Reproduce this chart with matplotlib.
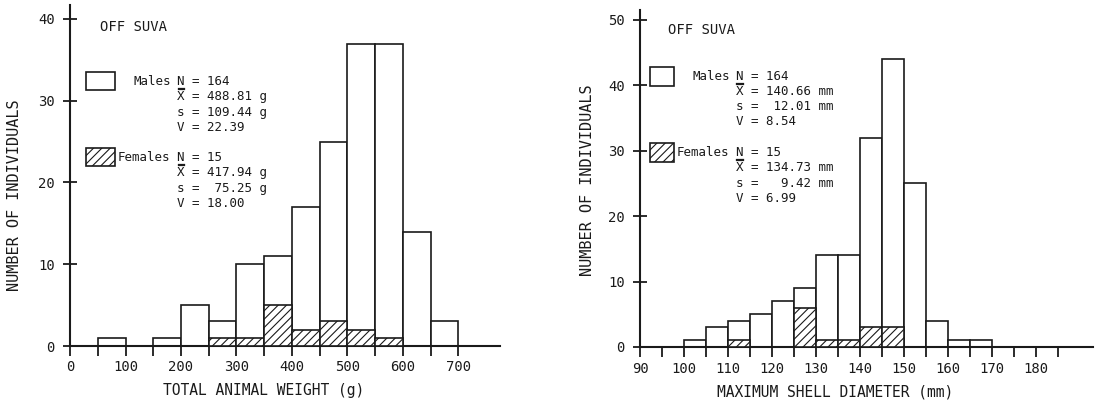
import matplotlib.pyplot as plt
from matplotlib.patches import Rectangle
from matplotlib.lines import Line2D
from matplotlib.ticker import FixedLocator
from matplotlib.transforms import Affine2D, ScaledTranslation

plt.rcParams['font.family'] = ['DejaVu Sans Mono']
plt.rcParams['hatch.linewidth'] = 0.8
INK = '#1a1a1a'

# weight histogram (g), bins of 50 g
wt_edges = [50, 100, 150, 200, 250, 300, 350, 400, 450, 500, 550, 600, 650]
wt_males = [1, 0, 1, 5, 3, 10, 11, 17, 25, 37, 37, 14, 3]
wt_females = [0, 0, 0, 0, 1, 1, 5, 2, 3, 2, 1, 0, 0]
wt_stats_m = ['N = 164', 'X = 488.81 g', 's = 109.44 g', 'V = 22.39']
wt_stats_f = ['N = 15', 'X = 417.94 g', 's =  75.25 g', 'V = 18.00']

# shell diameter histogram (mm), bins of 5 mm
sd_edges = [90, 95, 100, 105, 110, 115, 120, 125, 130, 135, 140, 145, 150, 155, 160, 165]
sd_males = [0, 0, 1, 3, 4, 5, 7, 9, 14, 14, 32, 44, 25, 4, 1, 1]
sd_females = [0, 0, 0, 0, 1, 0, 0, 6, 1, 1, 3, 3, 0, 0, 0, 0]
sd_stats_m = ['N = 164', 'X = 140.66 mm', 's =  12.01 mm', 'V = 8.54']
sd_stats_f = ['N = 15', 'X = 134.73 mm', 's =   9.42 mm', 'V = 6.99']

fig = plt.figure(figsize=(10.98, 4.03), dpi=100)
ax1 = fig.add_axes([0.0638, 0.1414, 0.392, 0.846])
ax2 = fig.add_axes([0.583, 0.139, 0.4126, 0.836])


def hist(ax, edges, males, females, width):
    ax.bar(edges, males, width=width, align='edge', facecolor='white',
           edgecolor=INK, linewidth=1.2, zorder=2)
    ax.bar(edges, females, width=width, align='edge', facecolor='white',
           edgecolor=INK, linewidth=1.2, hatch='////', zorder=3)


def style(ax, pad):
    for s in ['top', 'right']:
        ax.spines[s].set_visible(False)
    for s in ['left', 'bottom']:
        ax.spines[s].set_linewidth(1.5)
        ax.spines[s].set_color(INK)
    ax.tick_params(axis='x', which='both', direction='out', length=7,
                   width=1.3, color=INK, labelsize=10, labelcolor=INK, pad=pad)
    ax.tick_params(axis='y', direction='inout', length=10, width=1.3,
                   color=INK, labelsize=10, labelcolor=INK, pad=6)
    ax.set_ylabel('NUMBER OF INDIVIDUALS', fontsize=11, color=INK)


def mark(ax, x, y, dy_pt):
    # short bar over / under the first letter of a stats line
    tr = (Affine2D().scale(1 / 72.) + fig.dpi_scale_trans
          + ScaledTranslation(x, y, ax.transData))
    ax.add_line(Line2D([0.6, 5.0], [dy_pt, dy_pt], transform=tr,
                       color=INK, lw=0.9))


def legend(ax, x_box, box_w, box_h, y_m, y_f, x_lab_m, x_lab_f, x_col, dy,
           stats_m, stats_f):
    ax.add_patch(Rectangle((x_box, y_m - box_h / 2), box_w, box_h,
                           facecolor='white', edgecolor=INK, lw=1.2, zorder=4))
    ax.add_patch(Rectangle((x_box, y_f - box_h / 2), box_w, box_h,
                           facecolor='white', edgecolor=INK, lw=1.2,
                           hatch='////', zorder=4))
    ax.text(x_lab_m, y_m, 'Males', fontsize=9, color=INK, va='center')
    ax.text(x_lab_f, y_f, 'Females', fontsize=9, color=INK, va='center')
    for y0, lines in [(y_m, stats_m), (y_f, stats_f)]:
        for i, line in enumerate(lines):
            y = y0 - i * dy
            ax.text(x_col, y, line, fontsize=9, color=INK, va='center')
            if i == 0:
                mark(ax, x_col, y, -4.6)
            if i == 1:
                mark(ax, x_col, y, 5.6)


# left panel
hist(ax1, wt_edges, wt_males, wt_females, 50)
style(ax1, 3)
ax1.set_xlim(0, 776)
ax1.set_ylim(0, 41.7)
ax1.set_xticks(range(0, 800, 100))
ax1.xaxis.set_minor_locator(FixedLocator(range(50, 701, 50)))
ax1.set_yticks([0, 10, 20, 30, 40])
ax1.set_xlabel('TOTAL ANIMAL WEIGHT (g)', fontsize=10.5, color=INK)
ax1.xaxis.set_label_coords(0.449, -0.108)
ax1.yaxis.set_label_coords(-0.112, 0.443)
ax1.text(54, 39.0, 'OFF SUVA', fontsize=10, color=INK, va='center')
legend(ax1, 29, 52, 2.2, 32.4, 23.1, 114, 85, 193, 1.9,
       wt_stats_m, wt_stats_f)

# right panel
hist(ax2, sd_edges, sd_males, sd_females, 5)
style(ax2, 4)
ax2.set_xlim(90, 193)
ax2.set_ylim(0, 51.5)
ax2.set_xticks(range(90, 190, 10))
ax2.xaxis.set_minor_locator(FixedLocator(range(95, 186, 5)))
ax2.set_yticks([0, 10, 20, 30, 40, 50])
ax2.set_xlabel('MAXIMUM SHELL DIAMETER (mm)', fontsize=10.5, color=INK)
ax2.xaxis.set_label_coords(0.43, -0.11)
ax2.yaxis.set_label_coords(-0.099, 0.496)
ax2.text(96.4, 48.5, 'OFF SUVA', fontsize=10, color=INK, va='center')
legend(ax2, 92.3, 5.5, 2.9, 41.4, 29.7, 101.9, 98.4, 111.7, 2.32,
       sd_stats_m, sd_stats_f)

fig.savefig('out.png', dpi=100, facecolor='white')
